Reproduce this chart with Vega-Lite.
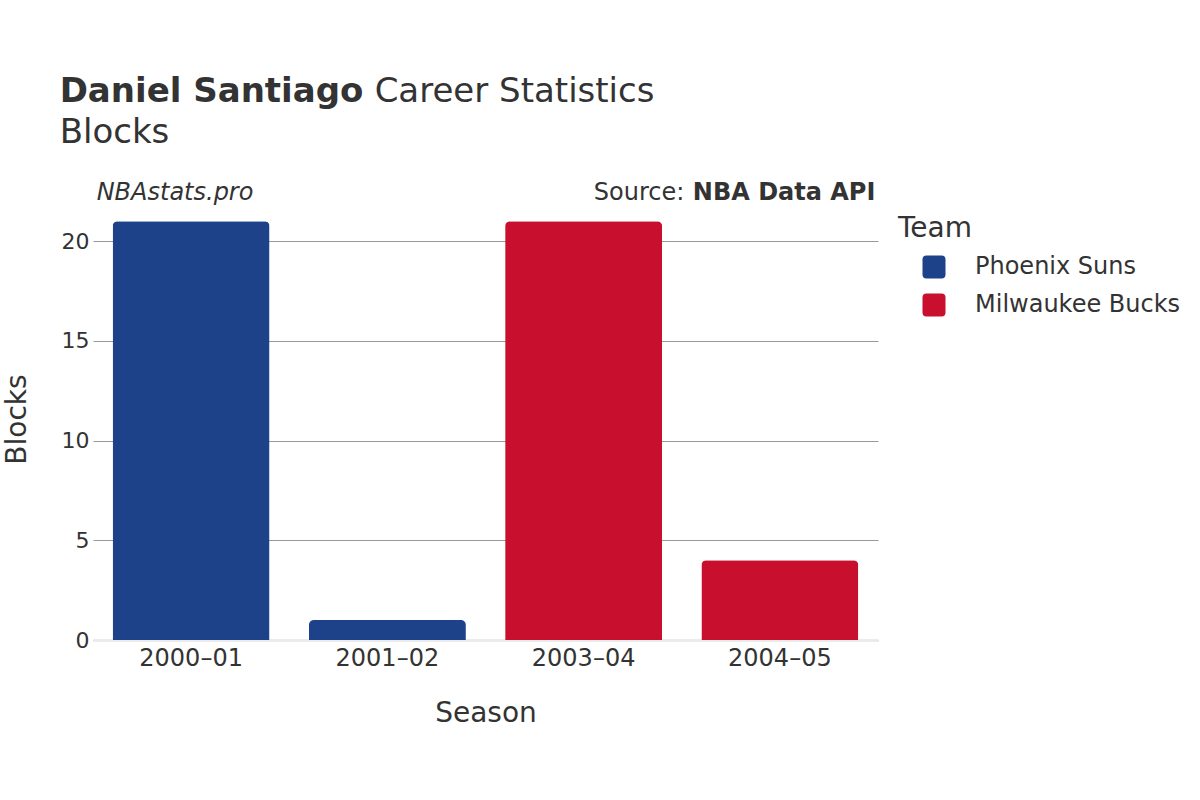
{
  "$schema": "https://vega.github.io/schema/vega-lite/v6.json",
  "width": 785,
  "height": 442,
  "autosize": {"type": "none"},
  "padding": {"left": 93, "top": 198, "right": 322, "bottom": 160},
  "background": "white",
  "config": {
    "font": "DejaVu Sans",
    "view": {"stroke": null},
    "text": {"color": "#333333"}
  },
  "layer": [
    {
      "data": {
        "values": [
          {"Season": "2000–01", "Team": "Phoenix Suns", "Blocks": 21},
          {"Season": "2001–02", "Team": "Phoenix Suns", "Blocks": 1},
          {"Season": "2003–04", "Team": "Milwaukee Bucks", "Blocks": 21},
          {"Season": "2004–05", "Team": "Milwaukee Bucks", "Blocks": 4}
        ]
      },
      "mark": {"type": "bar", "cornerRadiusTopLeft": 5, "cornerRadiusTopRight": 5},
      "encoding": {
        "x": {
          "field": "Season",
          "type": "nominal",
          "sort": null,
          "scale": {"paddingInner": 0.2, "paddingOuter": 0.1},
          "axis": {
            "title": "Season",
            "labelAngle": 0,
            "labelFontSize": 24,
            "labelColor": "#333333",
            "labelPadding": 6,
            "ticks": false,
            "domainColor": "#ebebeb",
            "domainWidth": 3,
            "titleFontSize": 28,
            "titleFontWeight": "normal",
            "titleColor": "#333333",
            "titlePadding": 29
          }
        },
        "y": {
          "field": "Blocks",
          "type": "quantitative",
          "scale": {"domain": [0, 22.16], "nice": false},
          "axis": {
            "title": "Blocks",
            "values": [0, 5, 10, 15, 20],
            "labelFontSize": 22,
            "labelColor": "#333333",
            "labelPadding": 4,
            "ticks": false,
            "domain": false,
            "gridColor": "#999999",
            "gridWidth": 1,
            "titleFontSize": 28,
            "titleFontWeight": "normal",
            "titleColor": "#333333",
            "titlePadding": 30
          }
        },
        "color": {
          "field": "Team",
          "type": "nominal",
          "scale": {"domain": ["Phoenix Suns", "Milwaukee Bucks"], "range": ["#1D428A", "#C8102E"]},
          "legend": {
            "title": "Team",
            "orient": "right",
            "offset": 3,
            "padding": 17,
            "titleFontSize": 28,
            "titleFontWeight": "normal",
            "titleColor": "#333333",
            "titlePadding": 12,
            "labelFontSize": 24,
            "labelColor": "#333333",
            "labelLimit": 400,
            "labelOffset": 29,
            "symbolOffset": 24,
            "symbolSize": 530,
            "symbolOpacity": 1,
            "symbolStrokeWidth": 0,
            "symbolType": "M -0.65 -1 L 0.65 -1 Q 1 -1 1 -0.65 L 1 0.65 Q 1 1 0.65 1 L -0.65 1 Q -1 1 -1 0.65 L -1 -0.65 Q -1 -1 -0.65 -1 Z",
            "rowPadding": 14
          }
        }
      }
    },
    {
      "data": {"values": [{"label": "Daniel Santiago"}]},
      "mark": {"type": "text", "align": "left", "baseline": "alphabetic", "fontSize": 34, "fontWeight": "bold", "dx": -53},
      "encoding": {
        "x": {"datum": "2000–01", "bandPosition": 0},
        "y": {"datum": 26.98, "scale": {"domain": [0, 22.16], "nice": false}},
        "text": {"field": "label"}
      }
    },
    {
      "data": {"values": [{"label": "Career Statistics"}]},
      "mark": {"type": "text", "align": "left", "baseline": "alphabetic", "fontSize": 34, "dx": 262},
      "encoding": {
        "x": {"datum": "2000–01", "bandPosition": 0},
        "y": {"datum": 26.98, "scale": {"domain": [0, 22.16], "nice": false}},
        "text": {"field": "label"}
      }
    },
    {
      "data": {"values": [{"label": "Blocks"}]},
      "mark": {"type": "text", "align": "left", "baseline": "alphabetic", "fontSize": 34, "dx": -53},
      "encoding": {
        "x": {"datum": "2000–01", "bandPosition": 0},
        "y": {"datum": 24.9, "scale": {"domain": [0, 22.16], "nice": false}},
        "text": {"field": "label"}
      }
    },
    {
      "data": {"values": [{"label": "NBAstats.pro"}]},
      "mark": {"type": "text", "align": "left", "baseline": "alphabetic", "fontSize": 24, "fontStyle": "italic", "dx": -16},
      "encoding": {
        "x": {"datum": "2000–01", "bandPosition": 0},
        "y": {"datum": 22.06, "scale": {"domain": [0, 22.16], "nice": false}},
        "text": {"field": "label"}
      }
    },
    {
      "data": {"values": [{"label": "NBA Data API"}]},
      "mark": {"type": "text", "align": "right", "baseline": "alphabetic", "fontSize": 24, "fontWeight": "bold", "dx": 17},
      "encoding": {
        "x": {"datum": "2004–05", "bandPosition": 1},
        "y": {"datum": 22.06, "scale": {"domain": [0, 22.16], "nice": false}},
        "text": {"field": "label"}
      }
    },
    {
      "data": {"values": [{"label": "Source:"}]},
      "mark": {"type": "text", "align": "right", "baseline": "alphabetic", "fontSize": 24, "dx": -174},
      "encoding": {
        "x": {"datum": "2004–05", "bandPosition": 1},
        "y": {"datum": 22.06, "scale": {"domain": [0, 22.16], "nice": false}},
        "text": {"field": "label"}
      }
    }
  ]
}
